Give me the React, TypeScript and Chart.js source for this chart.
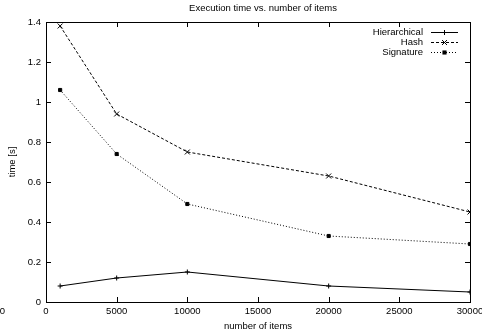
import React, { useEffect, useRef } from 'react';
import { Chart, registerables } from 'chart.js';

Chart.register(...registerables);

const TITLE = 'Execution time vs. number of items';
const X_LABEL = 'number of items';
const Y_LABEL = 'time [s]';
const itemCounts = [1000, 5000, 10000, 20000, 30000];
const hierarchical = [0.08, 0.12, 0.15, 0.08, 0.05];
const hash = [1.38, 0.94, 0.75, 0.63, 0.45];
const signature = [1.06, 0.74, 0.49, 0.33, 0.29];
const seriesNames = ['Hierarchical', 'Hash', 'Signature'];

const FONT = '"Liberation Sans", Arial, Helvetica, sans-serif';
const FS = 9.5;

function drawMarker(ctx: CanvasRenderingContext2D, style: string, x: number, y: number, r: number) {
  ctx.beginPath();
  if (style === 'cross') {
    ctx.moveTo(x - r, y);
    ctx.lineTo(x + r, y);
    ctx.moveTo(x, y - r);
    ctx.lineTo(x, y + r);
    ctx.stroke();
  } else if (style === 'crossRot') {
    const d = r * Math.SQRT1_2;
    ctx.moveTo(x - d, y - d);
    ctx.lineTo(x + d, y + d);
    ctx.moveTo(x - d, y + d);
    ctx.lineTo(x + d, y - d);
    ctx.stroke();
  } else {
    const s = r * Math.SQRT1_2 + 0.5;
    ctx.fillRect(x - s, y - s, 2 * s, 2 * s);
  }
}

const gnuplotFrame = {
  id: 'gnuplotFrame',
  afterDraw(chart: any) {
    const ctx = chart.ctx;
    const { left, right, top, bottom } = chart.chartArea;
    const xs = chart.scales.x;
    const ys = chart.scales.y;
    ctx.save();
    ctx.strokeStyle = '#000';
    ctx.lineWidth = 1;
    ctx.setLineDash([]);
    ctx.strokeRect(Math.round(left) + 0.5, Math.round(top) + 0.5, Math.round(right - left), Math.round(bottom - top));
    const TL = 5;
    ctx.beginPath();
    xs.ticks.forEach((t: any) => {
      const px = Math.round(xs.getPixelForValue(t.value)) + 0.5;
      ctx.moveTo(px, bottom);
      ctx.lineTo(px, bottom - TL);
      ctx.moveTo(px, top);
      ctx.lineTo(px, top + TL);
    });
    ys.ticks.forEach((t: any) => {
      const py = Math.round(ys.getPixelForValue(t.value)) + 0.5;
      ctx.moveTo(left, py);
      ctx.lineTo(left + TL, py);
      ctx.moveTo(right, py);
      ctx.lineTo(right - TL, py);
    });
    ctx.stroke();

    ctx.fillStyle = '#000';
    ctx.font = `${FS}px ${FONT}`;
    ctx.textAlign = 'center';
    ctx.textBaseline = 'middle';
    ctx.fillText(TITLE, 263, 8);

    // fragment of a neighbouring panel at the left edge
    ctx.textAlign = 'right';
    ctx.fillText('0', 5, 311);

    const rowY = [32, 42, 52];
    const textRight = 423;
    const lineX0 = 431;
    const lineX1 = 458;
    chart.data.datasets.forEach((ds: any, i: number) => {
      const y = rowY[i];
      ctx.textAlign = 'right';
      ctx.textBaseline = 'middle';
      ctx.fillStyle = '#000';
      ctx.fillText(ds.label, textRight, y);
      ctx.beginPath();
      ctx.setLineDash(ds.borderDash || []);
      ctx.moveTo(lineX0, y + 0.5);
      ctx.lineTo(lineX1, y + 0.5);
      ctx.stroke();
      ctx.setLineDash([]);
      drawMarker(ctx, ds.pointStyle, (lineX0 + lineX1) / 2, y + 0.5, ds.pointRadius);
    });
    ctx.restore();
  },
};

export default function App() {
  const ref = useRef<HTMLCanvasElement>(null);
  useEffect(() => {
    if (!ref.current) return;
    const mk = (vals: number[]) => itemCounts.map((x, i) => ({ x, y: vals[i] }));
    const chart = new Chart(ref.current, {
      type: 'line',
      data: {
        datasets: [
          {
            label: seriesNames[0],
            data: mk(hierarchical),
            borderColor: '#000',
            backgroundColor: '#000',
            borderWidth: 1,
            borderDash: [],
            pointStyle: 'cross',
            pointRadius: 2.5,
            pointBorderWidth: 1,
            pointBorderColor: '#000',
          },
          {
            label: seriesNames[1],
            data: mk(hash),
            borderColor: '#000',
            backgroundColor: '#000',
            borderWidth: 1,
            borderDash: [3, 2],
            pointStyle: 'crossRot',
            pointRadius: 3.5,
            pointBorderWidth: 1,
            pointBorderColor: '#000',
          },
          {
            label: seriesNames[2],
            data: mk(signature),
            borderColor: '#000',
            backgroundColor: '#000',
            borderWidth: 1,
            borderDash: [1, 2],
            pointStyle: 'rect',
            pointRadius: 2.2,
            pointBorderWidth: 1,
            pointBorderColor: '#000',
            pointBackgroundColor: '#000',
          },
        ] as any,
      },
      options: {
        responsive: false,
        animation: false,
        layout: { padding: { top: 22, right: 12, left: 0, bottom: 0 } },
        plugins: {
          legend: { display: false },
          title: { display: false },
          tooltip: { enabled: false },
        },
        elements: { line: { tension: 0 } },
        scales: {
          x: {
            type: 'linear',
            min: 0,
            max: 30000,
            border: { display: false },
            grid: { display: false, drawTicks: false },
            ticks: {
              stepSize: 5000,
              color: '#000',
              padding: 4,
              maxRotation: 0,
              font: { family: FONT, size: FS },
              callback: (v: any) => String(v),
            },
            title: {
              display: true,
              text: X_LABEL,
              color: '#000',
              font: { family: FONT, size: FS },
              padding: { top: 0, bottom: 4 },
            },
            afterFit: (s: any) => {
              s.height = 34;
              s.paddingLeft = 0;
              s.paddingRight = 0;
            },
          },
          y: {
            type: 'linear',
            min: 0,
            max: 1.4,
            border: { display: false },
            grid: { display: false, drawTicks: false },
            ticks: {
              stepSize: 0.2,
              color: '#000',
              padding: 5,
              font: { family: FONT, size: FS },
              callback: (v: any) => String(Math.round(Number(v) * 10) / 10),
            },
            title: {
              display: true,
              text: Y_LABEL,
              color: '#000',
              font: { family: FONT, size: FS },
              padding: { top: 7, bottom: 0 },
            },
            afterFit: (s: any) => {
              s.width = 46;
              s.paddingTop = 0;
              s.paddingBottom = 0;
            },
          },
        },
      } as any,
      plugins: [gnuplotFrame],
    });
    return () => chart.destroy();
  }, []);
  return (
    <div style={{ position: 'fixed', left: 0, top: 0, width: 482, height: 336, background: '#fff' }}>
      <canvas ref={ref} width={482} height={336} style={{ display: 'block' }} />
    </div>
  );
}
